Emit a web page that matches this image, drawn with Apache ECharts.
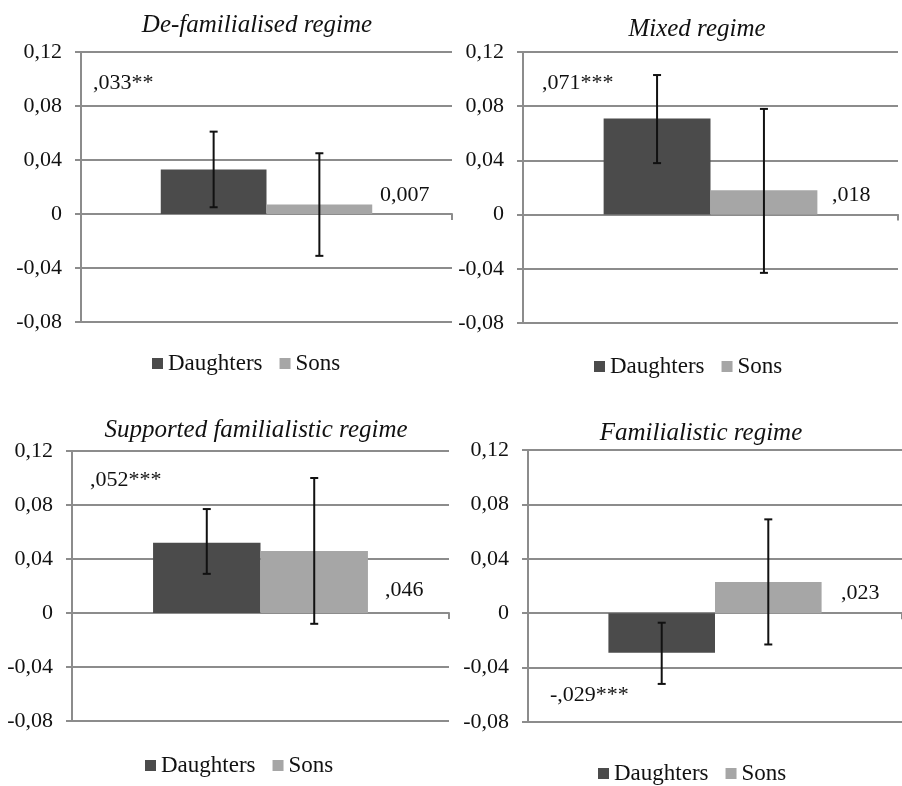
<!DOCTYPE html>
<html>
<head>
<meta charset="utf-8">
<script src="https://cdn.jsdelivr.net/npm/echarts@6/dist/echarts.min.js"></script>
<style>html,body{margin:0;padding:0;background:#fff;}#c{width:902px;height:786px;}</style>
</head>
<body>
<div id="c"></div>
<script>
// ---- data ----
const panelTitles = ['De-familialised regime', 'Mixed regime', 'Supported familialistic regime', 'Familialistic regime'];
const categories = [''];
const daughters = [0.033, 0.071, 0.052, -0.029];
const sons = [0.007, 0.018, 0.046, 0.023];
const daughtersLow = [0.005, 0.038, 0.029, -0.052];
const daughtersHigh = [0.061, 0.103, 0.077, -0.007];
const sonsLow = [-0.031, -0.043, -0.008, -0.023];
const sonsHigh = [0.045, 0.078, 0.100, 0.069];
const daughtersLabels = [',033**', ',071***', ',052***', '-,029***'];
const sonsLabels = ['0,007', ',018', ',046', ',023'];
const yMin = -0.08, yMax = 0.12, yInterval = 0.04;

// ---- layout ----
const FONT = '"Liberation Serif", "Times New Roman", serif';
const FS = 22;
const grids = [
  {left: 81, top: 52, width: 371, height: 270},
  {left: 523, top: 52, width: 375, height: 271},
  {left: 72, top: 451, width: 377, height: 270},
  {left: 528, top: 450, width: 374, height: 272}
];
const titlePos = [[257, 25], [697, 29], [256, 430], [701, 433]];
const dLabelPos = [[93, 83], [542, 83], [90, 480], [550, 695]];
const sLabelPos = [[380, 195], [832, 195], [385, 590], [841, 593]];
const legendPos = [[152, 362], [594, 365], [145, 764], [598, 772]];
const GAP = 0.43;
const GRID_COLOR = '#8c8c8c';
const DARK = '#4b4b4b', LIGHT = '#a6a6a6';

const option = {
  animation: false,
  backgroundColor: '#fff',
  textStyle: {fontFamily: FONT},
  grid: grids.map(g => Object.assign({containLabel: false}, g)),
  xAxis: grids.map((g, i) => ({
    type: 'category', gridIndex: i, data: categories,
    axisLine: {show: true, onZero: true, lineStyle: {color: GRID_COLOR, width: 2}},
    axisTick: {show: true, length: 6, lineStyle: {color: GRID_COLOR, width: 2}},
    axisLabel: {show: false},
    splitLine: {show: false}
  })),
  yAxis: grids.map((g, i) => ({
    type: 'value', gridIndex: i, min: yMin, max: yMax, interval: yInterval,
    axisLine: {show: true, lineStyle: {color: GRID_COLOR, width: 2}},
    axisTick: {show: true, length: 6, lineStyle: {color: GRID_COLOR, width: 2}},
    splitLine: {show: true, lineStyle: {color: GRID_COLOR, width: 2}},
    axisLabel: {
      margin: 19, color: '#111', fontFamily: FONT, fontSize: FS,
      formatter: v => {
        const r = Math.round(v * 100) / 100;
        if (Math.abs(r) < 1e-9) return '0';
        return r.toFixed(2).replace('.', ',');
      }
    }
  })),
  legend: legendPos.map(p => ({
    left: p[0], top: p[1] - 10, orient: 'horizontal', padding: 0,
    icon: 'rect', itemWidth: 11, itemHeight: 11, itemGap: 17,
    data: ['Daughters', 'Sons'],
    textStyle: {fontFamily: FONT, fontSize: 23, color: '#111', padding: [0, 0, 0, 0]}
  })),
  series: [],
  graphic: []
};

grids.forEach((g, i) => {
  option.series.push({
    name: 'Daughters', type: 'bar', xAxisIndex: i, yAxisIndex: i,
    data: [daughters[i]], barGap: '0%', barCategoryGap: (GAP * 100) + '%',
    itemStyle: {color: DARK}, z: 2
  });
  option.series.push({
    name: 'Sons', type: 'bar', xAxisIndex: i, yAxisIndex: i,
    data: [sons[i]], barGap: '0%', barCategoryGap: (GAP * 100) + '%',
    itemStyle: {color: LIGHT}, z: 2
  });
  option.series.push({
    type: 'custom', xAxisIndex: i, yAxisIndex: i, z: 5, silent: true,
    data: [[0, daughtersLow[i], daughtersHigh[i], -1], [0, sonsLow[i], sonsHigh[i], 1]],
    renderItem: (params, api) => {
      const x = api.value(0), lo = api.value(1), hi = api.value(2), side = api.value(3);
      const band = api.size([1, 0])[0];
      const bw = band * (1 - GAP) / 2;
      const cx = api.coord([x, 0])[0] + side * bw / 2;
      const yl = api.coord([x, lo])[1], yh = api.coord([x, hi])[1];
      const st = {stroke: '#111', lineWidth: 2};
      return {type: 'group', children: [
        {type: 'line', shape: {x1: cx, y1: yl, x2: cx, y2: yh}, style: st},
        {type: 'line', shape: {x1: cx - 4, y1: yl, x2: cx + 4, y2: yl}, style: st},
        {type: 'line', shape: {x1: cx - 4, y1: yh, x2: cx + 4, y2: yh}, style: st}
      ]};
    }
  });
  option.graphic.push({
    type: 'text', x: titlePos[i][0], y: titlePos[i][1],
    style: {text: panelTitles[i], font: 'italic 25px ' + FONT, fill: '#111', textAlign: 'center', textVerticalAlign: 'middle'}
  });
  option.graphic.push({
    type: 'text', x: dLabelPos[i][0], y: dLabelPos[i][1],
    style: {text: daughtersLabels[i], font: FS + 'px ' + FONT, fill: '#111', textAlign: 'left', textVerticalAlign: 'middle'}
  });
  option.graphic.push({
    type: 'text', x: sLabelPos[i][0], y: sLabelPos[i][1],
    style: {text: sonsLabels[i], font: FS + 'px ' + FONT, fill: '#111', textAlign: 'left', textVerticalAlign: 'middle'}
  });
});

const chart = echarts.init(document.getElementById('c'), null, {renderer: 'canvas'});
chart.setOption(option);
</script>
</body>
</html>
